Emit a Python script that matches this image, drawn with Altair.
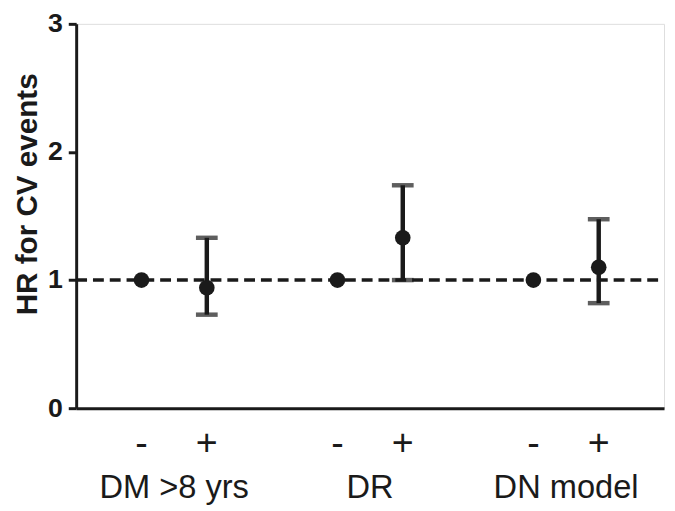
import altair as alt
import pandas as pd

positions = [1, 2, 4, 5, 7, 8]
signs = ["-", "+", "-", "+", "-", "+"]
hr = [1.0, 0.94, 1.0, 1.33, 1.0, 1.10]
lo = [None, 0.73, None, 1.0, None, 0.82]
hi = [None, 1.33, None, 1.74, None, 1.475]
groups = ["DM >8 yrs", "DR", "DN model"]
group_pos = [1.5, 4.5, 7.5]
ref_value = [1.0]

INK = "#1a1a1a"
FONT = "Liberation Sans"

df = pd.DataFrame({"pos": positions, "sign": signs, "hr": hr, "lo": lo, "hi": hi})
df_err = df.dropna()
df_grp = pd.DataFrame({"pos": group_pos, "group": groups})
df_ref = pd.DataFrame({"y": ref_value})

W, H = 595, 389

xs = alt.Scale(domain=[0, 9], nice=False, zero=False)
ys = alt.Scale(domain=[0, 3], nice=False)

x_enc = alt.X("pos:Q", scale=xs,
              axis=alt.Axis(labels=False, ticks=False, title=None, grid=False,
                            domainWidth=3, domainColor=INK))
y_axis = alt.Axis(values=[0, 1, 2, 3], format="d", grid=False, domainWidth=3,
                  domainColor=INK, tickColor=INK, tickWidth=3, tickSize=8,
                  labelFont=FONT, labelFontSize=27, labelFontWeight="bold",
                  labelColor=INK, labelPadding=6,
                  title="HR for CV events", titleFont=FONT, titleFontSize=30,
                  titleFontWeight="bold", titleColor=INK, titlePadding=5,
                  titleY=172)

ref = alt.Chart(df_ref).mark_rule(color=INK, strokeWidth=3.5, strokeDash=[11, 6]).encode(
    y=alt.Y("y:Q", scale=ys, axis=y_axis),
    x=alt.value(0), x2=alt.value(W)
)

bars = alt.Chart(df_err).mark_rule(color=INK, strokeWidth=4.5).encode(
    x=x_enc, y=alt.Y("lo:Q", scale=ys), y2="hi:Q"
)
cap_lo = alt.Chart(df_err).mark_tick(color=INK, orient="horizontal", size=22, thickness=4.5).encode(
    x=alt.X("pos:Q", scale=xs), y=alt.Y("lo:Q", scale=ys)
)
cap_hi = alt.Chart(df_err).mark_tick(color=INK, orient="horizontal", size=22, thickness=4.5).encode(
    x=alt.X("pos:Q", scale=xs), y=alt.Y("hi:Q", scale=ys)
)
pts = alt.Chart(df).mark_circle(color=INK, size=250, opacity=1).encode(
    x=alt.X("pos:Q", scale=xs), y=alt.Y("hr:Q", scale=ys)
)
sign_txt = alt.Chart(df).mark_text(font=FONT, fontSize=38, color=INK, baseline="middle").encode(
    x=alt.X("pos:Q", scale=xs), y=alt.value(H + 36), text="sign:N"
)
grp_txt = alt.Chart(df_grp).mark_text(font=FONT, fontSize=33, color=INK, baseline="middle").encode(
    x=alt.X("pos:Q", scale=xs), y=alt.value(H + 81), text="group:N"
)

chart = alt.layer(ref, bars, cap_lo, cap_hi, pts, sign_txt, grp_txt).properties(
    width=W, height=H,
    padding={"left": 69, "top": 13, "right": 3, "bottom": 100},
    autosize=alt.AutoSizeParams(type="none")
).configure_view(stroke=None).configure(background="white")

chart.save("out.html", embed_options={"renderer": "svg", "actions": False})
